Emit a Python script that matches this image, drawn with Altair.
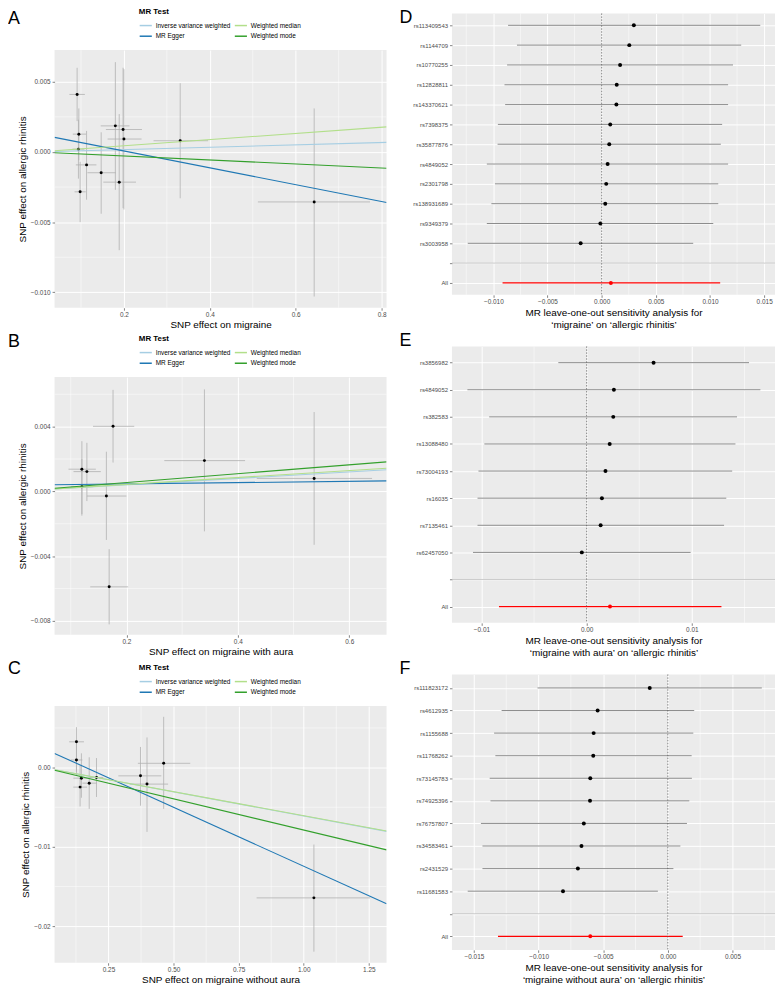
import altair as alt
import pandas as pd

FONT = "Liberation Sans"
BG = "#EBEBEB"
LABEL_GREY = "#4D4D4D"
TICK_GREY = "#333333"

METHOD_LEGEND_ORDER = ["Inverse variance weighted", "Weighted median", "MR Egger", "Weighted mode"]
METHOD_LEGEND_COLORS = ["#A6CEE3", "#B2DF8A", "#1F78B4", "#33A02C"]
METHOD_DRAW_ORDER = ["Inverse variance weighted", "MR Egger", "Weighted median", "Weighted mode"]

# ---------------- Panel A : migraine -> allergic rhinitis (scatter) ----------------
A_x = [0.091, 0.095, 0.094, 0.113, 0.098, 0.147, 0.180, 0.189, 0.198, 0.200, 0.331, 0.643]
A_xlo = [0.073, 0.081, 0.080, 0.088, 0.085, 0.115, 0.146, 0.152, 0.158, 0.162, 0.269, 0.512]
A_xhi = [0.109, 0.112, 0.108, 0.136, 0.111, 0.181, 0.213, 0.228, 0.242, 0.241, 0.396, 0.773]
A_y = [0.0041, 0.00127, 0.0002, -0.00092, -0.00284, -0.00148, 0.00186, -0.00215, 0.0016, 0.00092, 0.0008, -0.00356]
A_ylo = [0.0022, -0.0006, -0.0019, -0.0034, -0.0050, -0.0044, -0.0027, -0.0070, -0.0040, -0.0041, -0.0033, -0.0103]
A_yhi = [0.0060, 0.0031, 0.0023, 0.0015, -0.0007, 0.0014, 0.0064, 0.0027, 0.0060, 0.0059, 0.0049, 0.0031]
A_intercept = [0.0, 0.00127, 0.0, 0.0]          # in METHOD_DRAW_ORDER
A_slope = [0.00084, -0.0060, 0.0022, -0.00143]
A_xdom = [0.0385, 0.8115]
A_ydom = [-0.0111, 0.00726]
A_xticks = [0.2, 0.4, 0.6, 0.8]
A_xminor = [0.1, 0.3, 0.5, 0.7]
A_yticks = [-0.010, -0.005, 0.0, 0.005]
A_yminor = [-0.0075, -0.0025, 0.0025]

# ---------------- Panel B : migraine with aura ----------------
B_x = [0.120, 0.129, 0.120, 0.164, 0.176, 0.169, 0.340, 0.537]
B_xlo = [0.096, 0.105, 0.100, 0.129, 0.140, 0.135, 0.268, 0.434]
B_xhi = [0.145, 0.154, 0.140, 0.200, 0.214, 0.203, 0.413, 0.641]
B_y = [0.00137, 0.00122, 0.00029, -0.00029, 0.00402, -0.0059, 0.0019, 0.0008]
B_ylo = [-0.0015, -0.0006, -0.0014, -0.0030, 0.00178, -0.00822, -0.00247, -0.0033]
B_yhi = [0.0031, 0.0030, 0.0020, 0.00245, 0.00627, -0.00357, 0.0063, 0.0049]
B_intercept = [0.0, 0.00038, 0.0, 0.0]
B_slope = [0.0020, 0.0004, 0.00214, 0.00273]
B_xdom = [0.071, 0.667]
B_ydom = [-0.00886, 0.00706]
B_xticks = [0.2, 0.4, 0.6]
B_xminor = [0.1, 0.3, 0.5]
B_yticks = [-0.008, -0.004, 0.0, 0.004]
B_yminor = [-0.006, -0.002, 0.002, 0.006]

# ---------------- Panel C : migraine without aura ----------------
C_x = [0.127, 0.127, 0.146, 0.141, 0.176, 0.204, 0.373, 0.398, 0.462, 1.039]
C_xlo = [0.099, 0.105, 0.115, 0.115, 0.150, 0.178, 0.288, 0.332, 0.363, 0.819]
C_xhi = [0.156, 0.150, 0.175, 0.168, 0.204, 0.230, 0.453, 0.479, 0.564, 1.255]
C_y = [0.00325, 0.00096, -0.00133, -0.00246, -0.00196, -0.00125, -0.00104, -0.00208, 0.00054, -0.01642]
C_ylo = [-0.0005, -0.0010, -0.0038, -0.0049, -0.0052, -0.0037, -0.0048, -0.0081, -0.0052, -0.0232]
C_yhi = [0.0051, 0.0030, 0.0018, 0.0003, 0.0013, 0.0012, 0.0026, 0.0038, 0.0064, -0.0097]
C_intercept = [0.0, 0.00243, 0.0, 0.0]
C_slope = [-0.0061, -0.01487, -0.00607, -0.00787]
C_xdom = [0.043, 1.318]
C_ydom = [-0.0246, 0.00775]
C_xticks = [0.25, 0.50, 0.75, 1.00, 1.25]
C_xminor = [0.125, 0.375, 0.625, 0.875, 1.125]
C_yticks = [-0.02, -0.01, 0.0]
C_yminor = [-0.015, -0.005, 0.005]

# ---------------- Panel D : leave-one-out migraine ----------------
D_snps = ["rs113409543", "rs1144709", "rs10770255", "rs12828811", "rs143370621", "rs7398375",
          "rs35877876", "rs4849052", "rs2301798", "rs138931689", "rs9349379", "rs3003958"]
D_b = [0.00297, 0.00255, 0.0017, 0.00139, 0.00136, 0.00079, 0.0007, 0.00055, 0.00042, 0.00033, -0.00012, -0.00194]
D_lo = [-0.00864, -0.00782, -0.00873, -0.00897, -0.00891, -0.00958, -0.00961, -0.0106, -0.00985, -0.01018, -0.0106, -0.01236]
D_hi = [0.01464, 0.01288, 0.01212, 0.01167, 0.01167, 0.01112, 0.011, 0.01167, 0.01076, 0.01076, 0.0103, 0.00845]
D_all = [0.00085, -0.00915, 0.01094]
D_xdom = [-0.01382, 0.016]
D_xticks = [-0.010, -0.005, 0.0, 0.005, 0.010, 0.015]
D_xminor = [-0.0125, -0.0075, -0.0025, 0.0025, 0.0075, 0.0125]

# ---------------- Panel E : leave-one-out migraine with aura ----------------
E_snps = ["rs3856982", "rs4849052", "rs382583", "rs13088480", "rs73004193", "rs16035", "rs7135461", "rs62457050"]
E_b = [0.00636, 0.00259, 0.00253, 0.00219, 0.00179, 0.00145, 0.00133, -0.00046]
E_lo = [-0.00269, -0.01133, -0.00926, -0.00972, -0.01028, -0.01037, -0.01037, -0.0108]
E_hi = [0.01543, 0.01651, 0.01429, 0.01414, 0.01383, 0.01327, 0.01306, 0.00988]
E_all = [0.00222, -0.00833, 0.01281]
E_xdom = [-0.0128, 0.0179]
E_xticks = [-0.01, 0.0, 0.01]
E_xminor = [-0.005, 0.005, 0.015]

# ---------------- Panel F : leave-one-out migraine without aura ----------------
F_snps = ["rs111823172", "rs4612935", "rs1155688", "rs11768262", "rs73145783", "rs74925396",
          "rs76757807", "rs34583461", "rs2431529", "rs11681583"]
F_b = [-0.0014, -0.00543, -0.00574, -0.00577, -0.006, -0.00602, -0.0065, -0.00668, -0.00696, -0.00811]
F_lo = [-0.01008, -0.01286, -0.01344, -0.01334, -0.01378, -0.01372, -0.01446, -0.01434, -0.01434, -0.01548]
F_hi = [0.00727, 0.00204, 0.00197, 0.00184, 0.00186, 0.00166, 0.00148, 0.00097, 0.00043, -0.00077]
F_all = [-0.006, -0.01314, 0.00115]
F_xdom = [-0.0167, 0.00829]
F_xticks = [-0.015, -0.010, -0.005, 0.0, 0.005]
F_xminor = [-0.0125, -0.0075, -0.0025, 0.0025, 0.0075]


def axis_common(**kw):
    base = dict(grid=True, gridColor="white", gridWidth=1, domain=False,
                labelFontSize=6.5, labelColor=LABEL_GREY, labelFont=FONT,
                tickColor=TICK_GREY, tickSize=2.5, tickWidth=0.6,
                titleFont=FONT, titleFontSize=10, titleFontWeight="normal", titleColor="black",
                labelFlush=False, labelOverlap=False)
    base.update(kw)
    return alt.Axis(**base)


def letter_layer(letter, lx, ly):
    return alt.Chart(pd.DataFrame({"t": [letter]})).mark_text(
        fontSize=18, font=FONT, align="left", baseline="top", color="black"
    ).encode(x=alt.value(lx), y=alt.value(ly), text="t:N")


def scatter_panel(letter, x, xlo, xhi, y, ylo, yhi, icept, slope, xdom, ydom,
                  xticks, xminor, xfmt, yticks, yminor, yfmt, xtitle, w, h, ly, legy):
    xs = alt.Scale(domain=xdom, nice=False, zero=False)
    ys = alt.Scale(domain=ydom, nice=False, zero=False)
    xax = axis_common(values=xticks, format=xfmt, title=xtitle, labelPadding=1, titlePadding=2)
    yax = axis_common(values=yticks, format=yfmt, title="SNP effect on allergic rhinitis",
                      labelPadding=2, titlePadding=3)
    pts = pd.DataFrame(dict(x=x, xlo=xlo, xhi=xhi, y=y, ylo=ylo, yhi=yhi))

    minor_x = alt.Chart(pd.DataFrame({"v": xminor})).mark_rule(color="white", strokeWidth=0.5).encode(
        x=alt.X("v:Q", scale=xs, axis=xax))
    minor_y = alt.Chart(pd.DataFrame({"v": yminor})).mark_rule(color="white", strokeWidth=0.5).encode(
        y=alt.Y("v:Q", scale=ys, axis=yax))
    vbar = alt.Chart(pts).mark_rule(color="#B0B0B0", strokeWidth=0.8).encode(
        x=alt.X("x:Q", scale=xs, axis=xax), y=alt.Y("ylo:Q", scale=ys, axis=yax), y2="yhi:Q")
    hbar = alt.Chart(pts).mark_rule(color="#B0B0B0", strokeWidth=0.8).encode(
        x=alt.X("xlo:Q", scale=xs, axis=xax), x2="xhi:Q", y=alt.Y("y:Q", scale=ys, axis=yax))
    dots = alt.Chart(pts).mark_circle(color="black", opacity=1, size=9).encode(
        x=alt.X("x:Q", scale=xs, axis=xax), y=alt.Y("y:Q", scale=ys, axis=yax))

    rows = []
    for m, a, b in zip(METHOD_DRAW_ORDER, icept, slope):
        for xv in xdom:
            rows.append({"method": m, "lx": xv, "ly": a + b * xv})
    lines_df = pd.DataFrame(rows)
    legend = alt.Legend(title="MR Test", orient="none", legendX=85, legendY=legy,
                        direction="horizontal", columns=2, symbolType="stroke",
                        symbolSize=150, symbolStrokeWidth=1.5,
                        titleFont=FONT, titleFontSize=8, titleFontWeight="bold", titleColor="black",
                        titleOrient="top", titlePadding=2,
                        labelFont=FONT, labelFontSize=6.5, labelColor="black", labelOffset=3,
                        rowPadding=0, columnPadding=0)
    color = alt.Color("method:N", scale=alt.Scale(domain=METHOD_LEGEND_ORDER, range=METHOD_LEGEND_COLORS),
                      legend=legend)
    line_layers = []
    for m in METHOD_DRAW_ORDER:
        line_layers.append(
            alt.Chart(lines_df).transform_filter(alt.datum.method == m).mark_line(strokeWidth=1.1, clip=True).encode(
                x=alt.X("lx:Q", scale=xs, axis=xax), y=alt.Y("ly:Q", scale=ys, axis=yax), color=color)
        )
    lay = alt.layer(minor_x, minor_y, vbar, hbar, dots, *line_layers, letter_layer(letter, -47, ly))
    return lay.properties(width=w, height=h)


def forest_panel(letter, snps, b, lo, hi, allv, xdom, xticks, xminor, xfmt, title_lines, w, h, ly):
    order = snps + [" ", "All"]
    xs = alt.Scale(domain=xdom, nice=False, zero=False)
    ysc = alt.Scale(type="point", domain=order, padding=0.6)
    xax = axis_common(values=xticks, format=xfmt, title=title_lines, labelPadding=1, titlePadding=3,
                      titleLineHeight=11.5)
    yax = axis_common(title=None, labelFontSize=6, labelPadding=2)
    df = pd.DataFrame(dict(SNP=snps, b=b, lo=lo, hi=hi))
    dall = pd.DataFrame(dict(SNP=["All"], b=[allv[0]], lo=[allv[1]], hi=[allv[2]]))

    def Y(f="SNP"):
        return alt.Y(f + ":N", scale=ysc, axis=yax, sort=order)

    minor_x = alt.Chart(pd.DataFrame({"v": xminor})).mark_rule(color="white", strokeWidth=0.5).encode(
        x=alt.X("v:Q", scale=xs, axis=xax))
    sep = alt.Chart(pd.DataFrame({"SNP": [" "]})).mark_rule(color="#BEBEBE", strokeWidth=0.8).encode(y=Y())
    bars = alt.Chart(df).mark_rule(color="#8C8C8C", strokeWidth=1).encode(
        x=alt.X("lo:Q", scale=xs, axis=xax), x2="hi:Q", y=Y())
    dots = alt.Chart(df).mark_circle(color="black", opacity=1, size=16).encode(
        x=alt.X("b:Q", scale=xs, axis=xax), y=Y())
    abar = alt.Chart(dall).mark_rule(color="#FF0000", strokeWidth=1.3).encode(
        x=alt.X("lo:Q", scale=xs, axis=xax), x2="hi:Q", y=Y())
    adot = alt.Chart(dall).mark_circle(color="#FF0000", opacity=1, size=16).encode(
        x=alt.X("b:Q", scale=xs, axis=xax), y=Y())
    zero = alt.Chart(pd.DataFrame({"z": [0.0]})).mark_rule(color="#555555", strokeWidth=0.7,
                                                           strokeDash=[1.5, 1.5]).encode(
        x=alt.X("z:Q", scale=xs, axis=xax))
    lay = alt.layer(minor_x, sep, bars, dots, abar, adot, zero, letter_layer(letter, -53, ly))
    return lay.properties(width=w, height=h)


pA = scatter_panel("A", A_x, A_xlo, A_xhi, A_y, A_ylo, A_yhi, A_intercept, A_slope, A_xdom, A_ydom,
                   A_xticks, A_xminor, ".1f", A_yticks, A_yminor, ".3f", "SNP effect on migraine", 335, 260,
                   -40, -42)
pB = scatter_panel("B", B_x, B_xlo, B_xhi, B_y, B_ylo, B_yhi, B_intercept, B_slope, B_xdom, B_ydom,
                   B_xticks, B_xminor, ".1f", B_yticks, B_yminor, ".3f", "SNP effect on migraine with aura", 335, 260,
                   -44, -42)
pC = scatter_panel("C", C_x, C_xlo, C_xhi, C_y, C_ylo, C_yhi, C_intercept, C_slope, C_xdom, C_ydom,
                   C_xticks, C_xminor, ".2f", C_yticks, C_yminor, ".2f", "SNP effect on migraine without aura", 335, 259,
                   -46, -42)

pD = forest_panel("D", D_snps, D_b, D_lo, D_hi, D_all, D_xdom, D_xticks, D_xminor, ".3f",
                  ["MR leave-one-out sensitivity analysis for", "\u2018migraine\u2019 on \u2018allergic rhinitis\u2019"],
                  326, 284, -4)
pE = forest_panel("E", E_snps, E_b, E_lo, E_hi, E_all, E_xdom, E_xticks, E_xminor, ".2f",
                  ["MR leave-one-out sensitivity analysis for",
                   "\u2018migraine with aura\u2019 on \u2018allergic rhinitis\u2019"],
                  326, 279, -14)
pF = forest_panel("F", F_snps, F_b, F_lo, F_hi, F_all, F_xdom, F_xticks, F_xminor, ".3f",
                  ["MR leave-one-out sensitivity analysis for",
                   "\u2018migraine without aura\u2019 on \u2018allergic rhinitis\u2019"],
                  326, 278, -14)

# invisible spacer so that the left column starts lower than the right one
spacer = alt.Chart(pd.DataFrame({"s": [0]})).mark_point(opacity=0, size=1).encode(
    x=alt.value(0), y=alt.value(0)
).properties(width=1, height=1, view=alt.ViewBackground(fill="transparent", strokeWidth=0))

left_plots = alt.vconcat(pA, pB, pC, spacing=4).resolve_scale(color="independent").resolve_legend(color="independent")
left = alt.vconcat(spacer, left_plots, spacing=-6).resolve_scale(color="independent").resolve_legend(color="independent")
right = alt.vconcat(pD, pE, pF, spacing=3)
chart = alt.hconcat(left, right, spacing=12).resolve_scale(color="independent").resolve_legend(
    color="independent"
).properties(padding={"top": -4, "left": 0, "right": 0, "bottom": 0}).configure(
    font=FONT
).configure_view(fill=BG, strokeWidth=0)

chart.save("out.html", embed_options={"renderer": "svg", "actions": False})
